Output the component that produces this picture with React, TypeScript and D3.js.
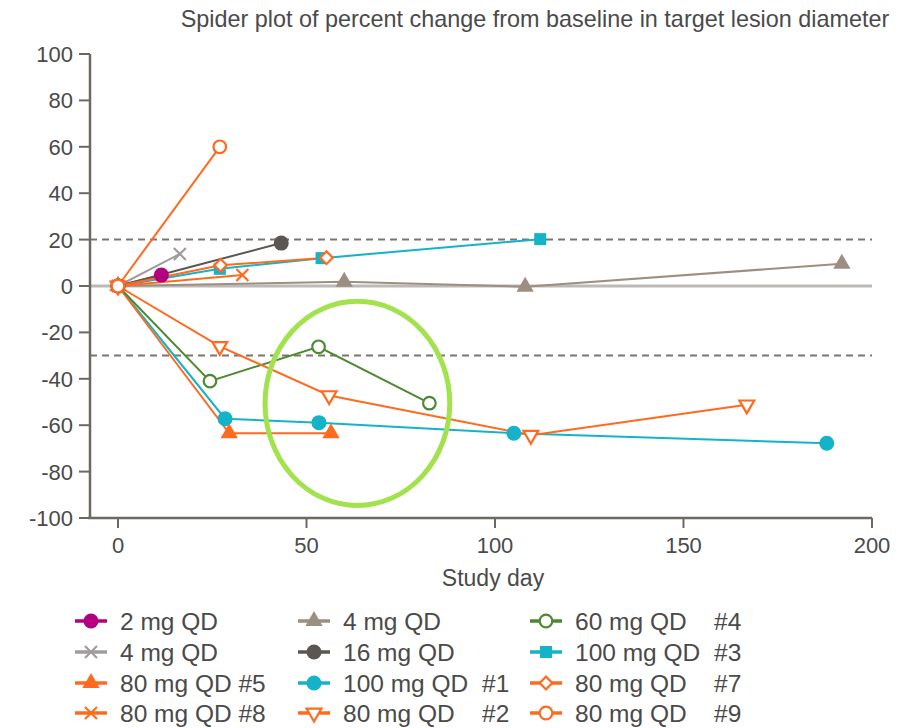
import React from "react";
import * as d3 from "d3";

type Pt = [number, number];
type Marker = "circle" | "ocircle" | "square" | "triangle" | "otriangleDown" | "odiamond" | "x";

const xTicks = [0, 50, 100, 150, 200];
const yTicks = [100, 80, 60, 40, 20, 0, -20, -40, -60, -80, -100];
const refLines = [20, -30];

const s2mg: Pt[] = [[0, 0], [11.5, 4.7]];
const s4mgTri: Pt[] = [[0, 0], [60, 1.8], [108, -0.3], [192, 9.6]];
const s60mg4: Pt[] = [[0, 0], [24.4, -41], [53.2, -26.2], [82.6, -50.5]];
const s4mgX: Pt[] = [[0, 0], [16.4, 13.8]];
const s16mg: Pt[] = [[0, 0], [43.3, 18.5]];
const s100mg3: Pt[] = [[0, 0], [27, 7.4], [54, 12], [112, 20.2]];
const s80mg5: Pt[] = [[0, 0], [29.5, -63.5], [56.5, -63.5]];
const s100mg1: Pt[] = [[0, 0], [28.4, -57.2], [53.3, -58.9], [105, -63.5], [188, -67.8]];
const s80mg7: Pt[] = [[0, 0], [27.2, 8.9], [55.3, 12.2]];
const s80mg8: Pt[] = [[0, 0], [33, 4.7]];
const s80mg2: Pt[] = [[0, 0], [27, -26], [56, -47.2], [109.5, -64.3], [166.8, -51.2]];
const s80mg9: Pt[] = [[0, 0], [27, 60]];

const C_MAG = "#b4007e";
const C_TRI = "#9c8f81";
const C_X = "#a19b9b";
const C_DARK = "#5b5651";
const C_OR = "#ff6a1f";
const C_CY = "#14b3c7";
const C_GR = "#4d8a2f";

interface Series { name: string; tag: string; color: string; marker: Marker; data: Pt[] }

// row-major order for the 3-column legend
const series: Series[] = [
  { name: "2 mg QD", tag: "", color: C_MAG, marker: "circle", data: s2mg },
  { name: "4 mg QD", tag: "", color: C_TRI, marker: "triangle", data: s4mgTri },
  { name: "60 mg QD", tag: "#4", color: C_GR, marker: "ocircle", data: s60mg4 },
  { name: "4 mg QD", tag: "", color: C_X, marker: "x", data: s4mgX },
  { name: "16 mg QD", tag: "", color: C_DARK, marker: "circle", data: s16mg },
  { name: "100 mg QD", tag: "#3", color: C_CY, marker: "square", data: s100mg3 },
  { name: "80 mg QD", tag: "#5", color: C_OR, marker: "triangle", data: s80mg5 },
  { name: "100 mg QD", tag: "#1", color: C_CY, marker: "circle", data: s100mg1 },
  { name: "80 mg QD", tag: "#7", color: C_OR, marker: "odiamond", data: s80mg7 },
  { name: "80 mg QD", tag: "#8", color: C_OR, marker: "x", data: s80mg8 },
  { name: "80 mg QD", tag: "#2", color: C_OR, marker: "otriangleDown", data: s80mg2 },
  { name: "80 mg QD", tag: "#9", color: C_OR, marker: "ocircle", data: s80mg9 },
];

const drawOrder = [1, 3, 0, 4, 5, 8, 9, 7, 6, 2, 10, 11];

const FONT = "'Liberation Sans', Arial, sans-serif";
const TXT = "#4a4a4a";
const AXIS = "#6e6863";

function MarkerShape({ m, cx, cy, color }: { m: Marker; cx: number; cy: number; color: string }) {
  const t = `translate(${cx},${cy})`;
  switch (m) {
    case "circle":
      return <circle cx={cx} cy={cy} r={7.5} fill={color} />;
    case "ocircle":
      return <circle cx={cx} cy={cy} r={6.3} fill="#fff" stroke={color} strokeWidth={2.2} />;
    case "square":
      return <rect x={cx - 6} y={cy - 6} width={12} height={12} fill={color} />;
    case "triangle":
      return <path transform={t} d={d3.symbol().type(d3.symbolTriangle).size(130)() || ""} fill={color} />;
    case "otriangleDown":
      return (
        <path transform={`${t} rotate(180)`} d={d3.symbol().type(d3.symbolTriangle).size(95)() || ""}
          fill="#fff" stroke={color} strokeWidth={2.2} />
      );
    case "odiamond":
      return (
        <path transform={`${t} rotate(45)`} d={d3.symbol().type(d3.symbolSquare).size(80)() || ""}
          fill="#fff" stroke={color} strokeWidth={2.2} />
      );
    case "x":
      return (
        <g transform={t} stroke={color} strokeWidth={2.2}>
          <line x1={-6} y1={-6} x2={6} y2={6} />
          <line x1={-6} y1={6} x2={6} y2={-6} />
        </g>
      );
  }
  return null;
}

export default function App() {
  const W = 907, H = 728;
  const x = d3.scaleLinear().domain([0, 200]).range([118, 872]);
  const y = d3.scaleLinear().domain([-100, 100]).range([518, 54]);
  const xAxisLeft = 88;
  const yAxisX = 90;
  const line = d3.line<Pt>().x((d) => x(d[0])).y((d) => y(d[1]));

  const legendColX = [75, 298, 530];
  const legendTextX = [120, 343, 575];
  const legendRowY = [621, 652, 683, 713];

  return (
    <svg width={W} height={H} style={{ position: "absolute", left: 0, top: 0, background: "#fff" }}
      fontFamily={FONT}>
      <text x={535} y={27} textAnchor="middle" fontSize={23.4} fill={TXT}>
        Spider plot of percent change from baseline in target lesion diameter
      </text>

      {/* zero line */}
      <line x1={yAxisX} x2={x(200)} y1={y(0)} y2={y(0)} stroke="#bdb9b6" strokeWidth={3} />
      {/* reference dashed lines */}
      {refLines.map((v) => (
        <line key={v} x1={yAxisX} x2={x(200)} y1={y(v)} y2={y(v)} stroke="#7a7571"
          strokeWidth={2} strokeDasharray="7,5" />
      ))}

      {/* axes */}
      <line x1={yAxisX} x2={yAxisX} y1={y(100)} y2={y(-100)} stroke={AXIS} strokeWidth={2.5} />
      <line x1={xAxisLeft} x2={x(200)} y1={y(-100)} y2={y(-100)} stroke={AXIS} strokeWidth={2.5} />
      {yTicks.map((v) => (
        <g key={v}>
          <line x1={yAxisX - 11} x2={yAxisX} y1={y(v)} y2={y(v)} stroke={AXIS} strokeWidth={2} />
          <text x={73} y={y(v)} dy="0.36em" textAnchor="end" fontSize={22} fill={TXT}>{v}</text>
        </g>
      ))}
      {xTicks.map((v) => (
        <g key={v}>
          <line x1={x(v)} x2={x(v)} y1={y(-100)} y2={y(-100) + 10} stroke={AXIS} strokeWidth={2} />
          <text x={x(v)} y={553} textAnchor="middle" fontSize={22} fill={TXT}>{v}</text>
        </g>
      ))}
      <text x={493} y={586} textAnchor="middle" fontSize={23} fill={TXT}>Study day</text>

      {/* series lines */}
      {drawOrder.map((i) => {
        const s = series[i];
        return <path key={"l" + i} d={line(s.data) || ""} fill="none" stroke={s.color} strokeWidth={2} />;
      })}
      {/* series markers */}
      {drawOrder.map((i) => {
        const s = series[i];
        return (
          <g key={"m" + i}>
            {s.data.map((d, j) => (
              <MarkerShape key={j} m={s.marker} cx={x(d[0])} cy={y(d[1])} color={s.color} />
            ))}
          </g>
        );
      })}

      {/* annotation ellipse */}
      <ellipse cx={x(63.5)} cy={y(-50.6)} rx={x(24.5) - x(0)} ry={y(0) - y(44)} fill="none"
        stroke="#a2e24c" strokeWidth={5} />

      {/* legend */}
      {series.map((s, i) => {
        const col = i % 3, row = Math.floor(i / 3);
        const lx = legendColX[col], ly = legendRowY[row];
        const cx = lx + 16;
        return (
          <g key={"lg" + i}>
            <line x1={lx} x2={lx + 32} y1={ly} y2={ly} stroke={s.color} strokeWidth={3.5} />
            <MarkerShape m={s.marker} cx={cx} cy={ly} color={s.color} />
            {col === 0 ? (
              <text x={legendTextX[col]} y={ly} dy="0.35em" fontSize={24.5} fill={TXT}>
                {s.tag ? `${s.name} ${s.tag}` : s.name}
              </text>
            ) : (
              <g>
                <text x={legendTextX[col]} y={ly} dy="0.35em" fontSize={24.5} fill={TXT}>{s.name}</text>
                {s.tag && (
                  <text x={legendTextX[col] + 139} y={ly} dy="0.35em" fontSize={24.5} fill={TXT}>{s.tag}</text>
                )}
              </g>
            )}
          </g>
        );
      })}
    </svg>
  );
}
